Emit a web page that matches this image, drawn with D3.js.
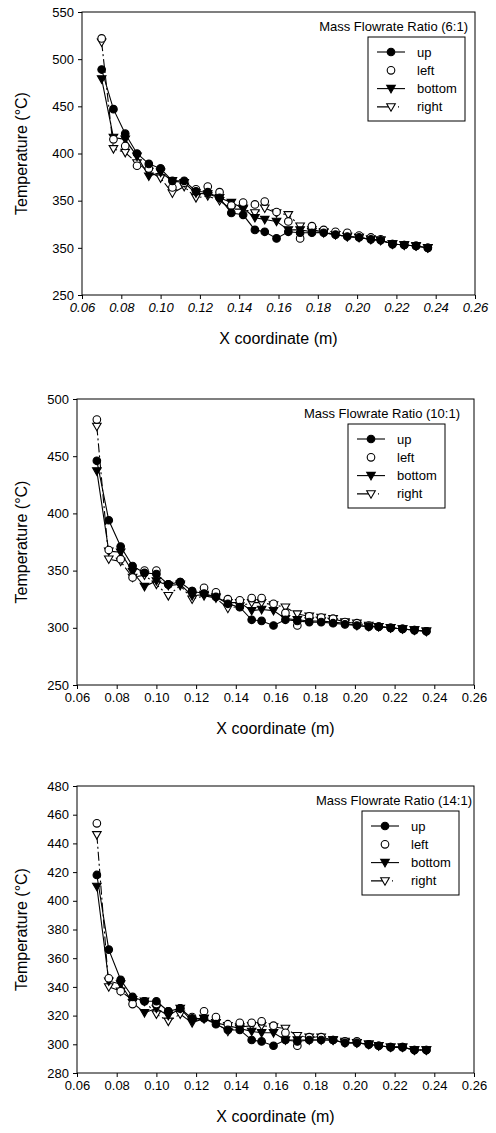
<!DOCTYPE html>
<html lang="en">
<head>
    <meta charset="UTF-8">
    <title>Temperature along X coordinate</title>
    <script src="https://d3js.org/d3.v7.min.js"></script>
    <style>
        body { margin: 0; background: #fff; }
        svg { display: block; font-family: "Liberation Sans", Arial, sans-serif; }
        .axis path, .axis line { stroke: #000; stroke-width: 1; }
        .axis text { fill: #000; font-size: 13px; }
    </style>
</head>
<body>
<script>
    // shared x positions of the measuring points (m)
    const xs = [0.070, 0.076, 0.082, 0.088, 0.094, 0.100, 0.106, 0.112, 0.118, 0.124,
                0.130, 0.136, 0.142, 0.148, 0.153, 0.159, 0.165, 0.171, 0.177, 0.183,
                0.189, 0.195, 0.201, 0.207, 0.212, 0.218, 0.224, 0.230, 0.236];
    const xTicks = [0.06, 0.08, 0.10, 0.12, 0.14, 0.16, 0.18, 0.20, 0.22, 0.24, 0.26];
    const seriesNames = ['up', 'left', 'bottom', 'right'];

    // Mass flowrate ratio 6:1
    const up6     = [489,447,421,400,389,384,371,371,360,359,353,337,335,319,317,310,317,316,316,316,314,312,311,309,308,304,303,302,300];
    const left6   = [522,415,408,387,384,384,364,369,362,365,359,345,348,346,349,338,328,310,323,319,317,316,313,311,309,304,303,302,300];
    const bottom6 = [479,417,415,397,376,380,371,369,358,357,353,348,342,332,330,328,319,319,317,316,314,312,311,309,308,304,303,302,300];
    const right6  = [518,405,401,390,381,374,358,365,353,355,350,341,341,337,342,337,335,323,319,317,314,312,311,309,308,304,303,302,300];
    const yTicks6 = [550, 500, 450, 400, 350, 300, 250];
    const yLabels6 = ['550', '500', '450', '400', '350', '350', '250'];

    // Mass flowrate ratio 10:1
    const up10     = [446,394,371,354,348,347,338,340,332,330,327,321,318,307,306,302,307,306,305,305,304,303,302,301,301,300,299,298,297];
    const left10   = [482,368,360,344,350,350,338,340,332,335,331,325,324,326,326,321,313,302,310,309,308,305,304,302,301,300,299,298,297];
    const bottom10 = [437,367,366,349,336,341,337,338,328,329,327,322,322,315,316,315,308,307,306,306,305,304,302,301,301,300,299,298,297];
    const right10  = [476,360,358,344,346,338,328,337,325,328,326,317,319,322,322,320,318,312,310,309,308,305,304,302,301,300,299,298,297];
    const yTicks10 = [500, 450, 400, 350, 300, 250];
    const yLabels10 = ['500', '450', '400', '350', '300', '250'];

    // Mass flowrate ratio 14:1
    const up14     = [418,366,345,333,330,330,323,325,318,318,314,310,310,303,302,299,303,302,303,303,303,301,301,300,299,298,298,296,296];
    const left14   = [454,346,337,328,330,328,323,325,319,323,319,314,315,315,316,313,308,299,305,305,303,302,302,300,299,298,298,296,296];
    const bottom14 = [410,344,342,329,322,325,320,325,316,318,315,313,311,309,308,308,303,303,303,303,303,301,301,300,299,298,298,296,296];
    const right14  = [446,340,337,331,330,321,316,321,315,318,315,309,312,313,313,312,311,306,305,305,303,302,301,300,299,298,298,296,296];
    const yTicks14 = [480, 460, 440, 420, 400, 380, 360, 340, 320, 300, 280];
    const yLabels14 = ['480', '460', '440', '420', '400', '380', '360', '340', '320', '300', '280'];

    const panels = [
        { title: 'Mass Flowrate Ratio (6:1)', series: [up6, left6, bottom6, right6],
          yTicks: yTicks6, yLabels: yLabels6, italicX: true,
          box: { left: 82, right: 475, top: 12, bottom: 295 }, titleX: 468, legendX: 368 },
        { title: 'Mass Flowrate Ratio (10:1)', series: [up10, left10, bottom10, right10],
          yTicks: yTicks10, yLabels: yLabels10, italicX: false,
          box: { left: 77, right: 474, top: 399, bottom: 685 }, titleX: 460, legendX: 348 },
        { title: 'Mass Flowrate Ratio (14:1)', series: [up14, left14, bottom14, right14],
          yTicks: yTicks14, yLabels: yLabels14, italicX: false,
          box: { left: 77, right: 474, top: 786, bottom: 1073 }, titleX: 472, legendX: 362 }
    ];

    // how each series is drawn
    const styles = {
        up:     { line: true,  dash: null,      marker: 'circle',   fill: '#000' },
        left:   { line: false, dash: null,      marker: 'circle',   fill: '#fff' },
        bottom: { line: true,  dash: null,      marker: 'triangle', fill: '#000' },
        right:  { line: true,  dash: '9,3,2,3', marker: 'triangle', fill: '#fff' }
    };

    const svg = d3.select('body').append('svg')
        .attr('width', 496)
        .attr('height', 1133);

    function drawMarker(g, kind, fill, x, y) {
        if (kind === 'circle') {
            g.append('circle').attr('cx', x).attr('cy', y).attr('r', 3.8)
                .attr('fill', fill).attr('stroke', '#000').attr('stroke-width', 1.1);
        } else {
            g.append('path')
                .attr('d', `M${x - 4.3},${y - 3.2}L${x + 4.3},${y - 3.2}L${x},${y + 4.3}Z`)
                .attr('fill', fill).attr('stroke', '#000').attr('stroke-width', 1.1);
        }
    }

    panels.forEach(p => {
        const b = p.box;
        const x = d3.scaleLinear().domain([0.06, 0.26]).range([b.left, b.right]);
        const y = d3.scaleLinear().domain([p.yTicks[p.yTicks.length - 1], p.yTicks[0]]).range([b.bottom, b.top]);

        const g = svg.append('g');

        // frame
        g.append('rect')
            .attr('x', b.left).attr('y', b.top)
            .attr('width', b.right - b.left).attr('height', b.bottom - b.top)
            .attr('fill', 'none').attr('stroke', '#000').attr('stroke-width', 1);

        const yAxis = g.append('g').attr('class', 'axis')
            .attr('transform', `translate(${b.left},0)`)
            .call(d3.axisLeft(y).tickValues(p.yTicks)
                .tickFormat((d, i) => p.yLabels[i]).tickSize(4).tickPadding(4));
        yAxis.select('.domain').remove();

        const xAxis = g.append('g').attr('class', 'axis')
            .attr('transform', `translate(0,${b.bottom})`)
            .call(d3.axisBottom(x).tickValues(xTicks).tickFormat(d3.format('.2f')).tickSize(4).tickPadding(4));
        xAxis.select('.domain').remove();
        if (p.italicX) xAxis.selectAll('text').style('font-style', 'italic');

        // axis titles
        g.append('text')
            .attr('x', (b.left + b.right) / 2).attr('y', b.bottom + 49)
            .attr('text-anchor', 'middle').attr('font-size', 16)
            .text('X coordinate (m)');
        g.append('text')
            .attr('transform', `translate(27,${(b.top + b.bottom) / 2}) rotate(-90)`)
            .attr('text-anchor', 'middle').attr('font-size', 16)
            .text('Temperature (°C)');

        // chart title
        g.append('text')
            .attr('x', p.titleX).attr('y', b.top + 19)
            .attr('text-anchor', 'end').attr('font-size', 13)
            .text(p.title);

        // series, drawn back to front
        [3, 2, 1, 0].forEach(si => {
            const name = seriesNames[si];
            const st = styles[name];
            const pts = xs.map((xv, i) => [x(xv), y(p.series[si][i])]);
            if (st.line) {
                g.append('path')
                    .attr('d', d3.line()(pts))
                    .attr('fill', 'none').attr('stroke', '#000').attr('stroke-width', 1.1)
                    .attr('stroke-dasharray', st.dash);
            }
            pts.forEach(pt => drawMarker(g, st.marker, st.fill, pt[0], pt[1]));
        });

        // legend
        const lx = p.legendX, ly = b.top + 25;
        const leg = g.append('g');
        leg.append('rect')
            .attr('x', lx).attr('y', ly).attr('width', 97).attr('height', 84)
            .attr('fill', '#fff').attr('stroke', '#000').attr('stroke-width', 1);
        seriesNames.forEach((name, i) => {
            const st = styles[name];
            const ry = ly + 15 + i * 18.3;
            if (st.line) {
                leg.append('line')
                    .attr('x1', lx + 9).attr('x2', lx + 37).attr('y1', ry).attr('y2', ry)
                    .attr('stroke', '#000').attr('stroke-width', 1.1)
                    .attr('stroke-dasharray', name === 'right' ? '16,5,1,6' : null);
            }
            drawMarker(leg, st.marker, st.fill, lx + 23, ry);
            leg.append('text')
                .attr('x', lx + 49).attr('y', ry + 4.5)
                .attr('font-size', 13)
                .text(name);
        });
    });
</script>
</body>
</html>
